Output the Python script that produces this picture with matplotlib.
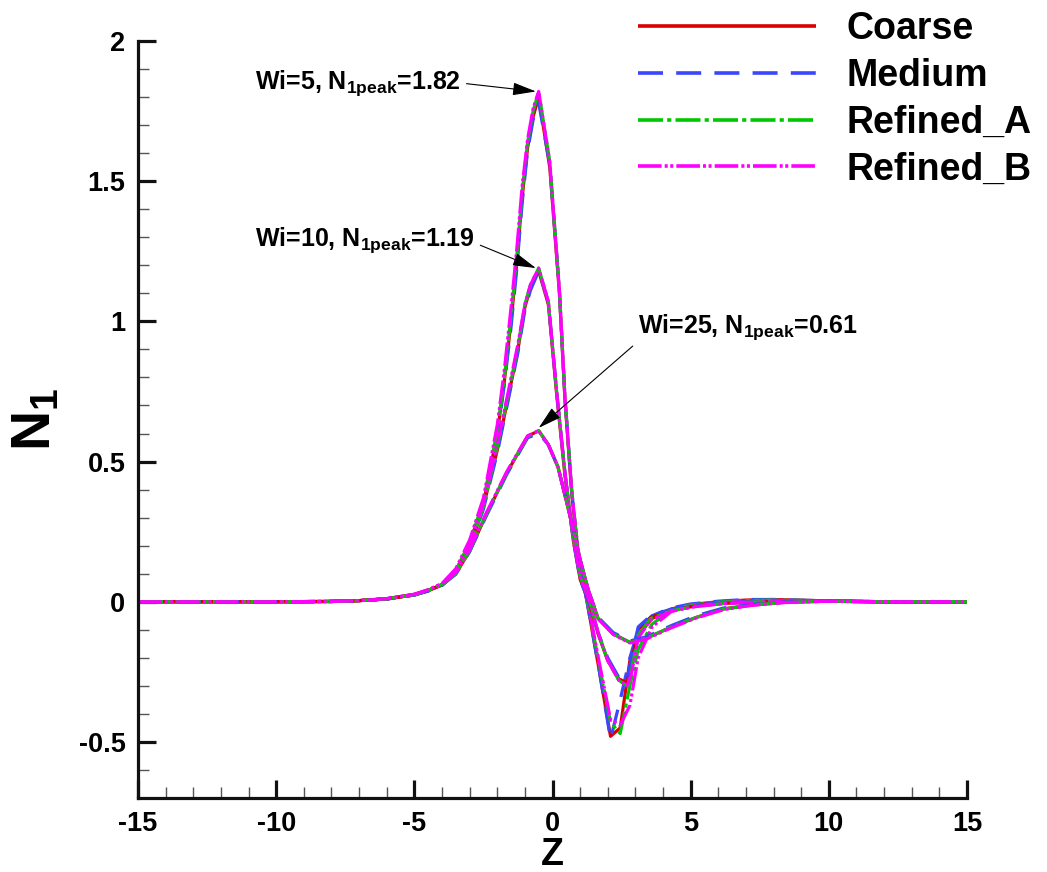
import matplotlib
matplotlib.use("Agg")
import matplotlib.pyplot as plt
from matplotlib.ticker import MultipleLocator, FixedLocator

plt.rcParams["font.family"] = ["Liberation Sans", "DejaVu Sans"]
plt.rcParams["font.weight"] = "bold"
plt.rcParams["mathtext.default"] = "regular"
plt.rcParams["lines.scale_dashes"] = False

# ---- data -------------------------------------------------------------
meshes = ["Coarse", "Medium", "Refined_A", "Refined_B"]

z_wi5 = [-15, -10, -8, -7, -6, -5, -4.5, -4, -3.5, -3, -2.5, -2, -1.75, -1.5,
         -1.3, -1.1, -0.9, -0.7, -0.5, -0.1, 0.25, 0.45, 0.7, 0.95, 1.25, 1.7,
         2.1, 2.45, 2.8, 3.1, 3.6, 4.3, 5, 6, 7, 8, 10, 12, 15]
n1_wi5 = {
    "Coarse":    [0, 0, 0.001, 0.004, 0.01, 0.025, 0.04, 0.06, 0.11, 0.21, 0.35, 0.60, 0.78, 1.00,
                  1.20, 1.44, 1.62, 1.73, 1.80, 1.55, 1.10, 0.72, 0.38, 0.15, 0.0, -0.25,
                  -0.48, -0.45, -0.21, -0.12, -0.06, -0.026, -0.01, 0.0, 0.006, 0.008, 0.003, 0, 0],
    "Medium":    [0, 0, 0.001, 0.004, 0.01, 0.024, 0.038, 0.058, 0.105, 0.20, 0.34, 0.59, 0.77, 0.98,
                  1.18, 1.42, 1.61, 1.72, 1.78, 1.56, 1.11, 0.73, 0.39, 0.15, 0.0, -0.25,
                  -0.49, -0.35, -0.20, -0.10, -0.05, -0.022, -0.008, 0.002, 0.008, 0.008, 0.003, 0, 0],
    "Refined_A": [0, 0, 0.001, 0.004, 0.01, 0.026, 0.041, 0.062, 0.112, 0.21, 0.36, 0.61, 0.79, 1.02,
                  1.22, 1.46, 1.64, 1.75, 1.82, 1.57, 1.11, 0.73, 0.39, 0.16, 0.01, -0.23,
                  -0.43, -0.47, -0.30, -0.17, -0.08, -0.03, -0.012, -0.002, 0.004, 0.006, 0.003, 0, 0],
    "Refined_B": [0, 0, 0.001, 0.004, 0.011, 0.027, 0.043, 0.065, 0.118, 0.22, 0.37, 0.63, 0.82, 1.05,
                  1.25, 1.48, 1.65, 1.76, 1.82, 1.57, 1.11, 0.73, 0.39, 0.16, 0.01, -0.22,
                  -0.42, -0.44, -0.37, -0.20, -0.09, -0.035, -0.014, -0.004, 0.002, 0.005, 0.003, 0, 0],
}

z_wi10 = [-15, -10, -8, -7, -6, -5, -4.5, -4, -3.5, -3, -2.5, -2, -1.6, -1.25,
          -1.0, -0.8, -0.5, -0.15, 0.15, 0.45, 0.75, 1.0, 1.35, 1.65, 2.0, 2.4,
          2.7, 2.85, 3.1, 3.55, 4.3, 5.2, 6.2, 7.5, 9, 12, 15]
n1_wi10 = {
    "Coarse":    [0, 0, 0.001, 0.004, 0.01, 0.025, 0.04, 0.06, 0.105, 0.19, 0.34, 0.54, 0.73, 0.90,
                  1.05, 1.12, 1.18, 1.06, 0.74, 0.45, 0.22, 0.08, -0.01, -0.115, -0.21, -0.275,
                  -0.29, -0.22, -0.10, -0.056, -0.03, -0.015, -0.006, 0.0, 0.002, 0, 0],
    "Medium":    [0, 0, 0.001, 0.004, 0.01, 0.024, 0.039, 0.059, 0.102, 0.19, 0.33, 0.53, 0.72, 0.89,
                  1.04, 1.11, 1.18, 1.07, 0.75, 0.46, 0.22, 0.08, -0.01, -0.11, -0.20, -0.27,
                  -0.28, -0.20, -0.09, -0.05, -0.026, -0.012, -0.004, 0.001, 0.002, 0, 0],
    "Refined_A": [0, 0, 0.001, 0.004, 0.01, 0.025, 0.04, 0.061, 0.107, 0.19, 0.34, 0.55, 0.74, 0.91,
                  1.06, 1.13, 1.19, 1.07, 0.75, 0.46, 0.23, 0.09, 0.0, -0.11, -0.21, -0.28,
                  -0.30, -0.25, -0.12, -0.06, -0.032, -0.016, -0.006, 0.0, 0.002, 0, 0],
    "Refined_B": [0, 0, 0.001, 0.004, 0.011, 0.026, 0.042, 0.063, 0.11, 0.20, 0.35, 0.56, 0.75, 0.92,
                  1.06, 1.13, 1.19, 1.07, 0.75, 0.46, 0.23, 0.09, 0.0, -0.11, -0.21, -0.28,
                  -0.30, -0.26, -0.13, -0.065, -0.034, -0.017, -0.007, -0.001, 0.002, 0, 0],
}

z_wi25 = [-15, -10, -8, -7, -6, -5, -4.5, -4, -3.5, -3, -2.4, -1.65, -0.9, -0.5,
          -0.15, 0.2, 0.65, 1.0, 1.3, 1.65, 2.2, 2.8, 3.4, 4.3, 5.2, 6.2, 7.2,
          8.4, 10, 12, 15]
n1_wi25 = {
    "Coarse":    [0, 0, 0.001, 0.004, 0.01, 0.025, 0.04, 0.06, 0.10, 0.18, 0.31, 0.46, 0.59, 0.61,
                  0.56, 0.48, 0.30, 0.15, 0.04, -0.06, -0.115, -0.145, -0.13, -0.09, -0.056,
                  -0.025, -0.012, -0.002, 0.002, 0, 0],
    "Medium":    [0, 0, 0.001, 0.004, 0.01, 0.024, 0.039, 0.059, 0.098, 0.178, 0.305, 0.455, 0.585, 0.60,
                  0.56, 0.48, 0.30, 0.15, 0.04, -0.055, -0.11, -0.14, -0.125, -0.085, -0.05,
                  -0.022, -0.01, -0.001, 0.002, 0, 0],
    "Refined_A": [0, 0, 0.001, 0.004, 0.01, 0.025, 0.04, 0.061, 0.101, 0.182, 0.312, 0.462, 0.59, 0.61,
                  0.56, 0.48, 0.30, 0.15, 0.04, -0.06, -0.115, -0.145, -0.13, -0.09, -0.056,
                  -0.026, -0.012, -0.002, 0.002, 0, 0],
    "Refined_B": [0, 0, 0.001, 0.004, 0.011, 0.026, 0.042, 0.063, 0.104, 0.186, 0.316, 0.465, 0.592, 0.61,
                  0.56, 0.48, 0.30, 0.15, 0.04, -0.06, -0.117, -0.147, -0.133, -0.093, -0.058,
                  -0.028, -0.013, -0.003, 0.002, 0, 0],
}

peak_labels = [
    ("Wi=5, N$_{1peak}$=1.82", (-0.6, 1.82), (-10.76, 1.85), (1.0, 0.5)),
    ("Wi=10, N$_{1peak}$=1.19", (-0.6, 1.19), (-10.76, 1.29), (1.0, 0.4)),
    ("Wi=25, N$_{1peak}$=0.61", (-0.5, 0.62), (3.08, 0.98), (0.0, 0.0)),
]

x_ticks = [-15, -10, -5, 0, 5, 10, 15]
x_tick_labels = ["-15", "-10", "-5", "0", "5", "10", "15"]
y_ticks = [-0.5, 0, 0.5, 1, 1.5, 2]
y_tick_labels = ["-0.5", "0", "0.5", "1", "1.5", "2"]

# ---- styles -----------------------------------------------------------
styles = {
    "Coarse":    dict(color="#d80000", linestyle="-"),
    "Medium":    dict(color="#3a46ff", linestyle=(0, (18, 9.5))),
    "Refined_A": dict(color="#00c800", linestyle=(0, (18, 3, 3, 3))),
    "Refined_B": dict(color="#ff00ff", linestyle=(0, (17, 2.2, 2.2, 1.8, 2.2, 2.2))),
}

fig = plt.figure(figsize=(10.47, 8.72), dpi=100)
ax = fig.add_axes([138 / 1047, 1 - 798 / 872, (967 - 138) / 1047, (798 - 41) / 872])

handles = {}
for data_z, data_n in ((z_wi5, n1_wi5), (z_wi10, n1_wi10), (z_wi25, n1_wi25)):
    for m in meshes:
        ln, = ax.plot(data_z, data_n[m], lw=2.3, solid_capstyle="butt",
                      dash_capstyle="butt", **styles[m])
        handles[m] = ln

ax.set_xlim(-15, 15)
ax.set_ylim(-0.7, 2.0)
ax.spines["top"].set_visible(False)
ax.spines["right"].set_visible(False)
for s in ("left", "bottom"):
    ax.spines[s].set_linewidth(2.3)
    ax.spines[s].set_color("#111111")

ax.xaxis.set_major_locator(FixedLocator(x_ticks))
ax.set_xticklabels(x_tick_labels)
ax.yaxis.set_major_locator(FixedLocator(y_ticks))
ax.set_yticklabels(y_tick_labels)
ax.xaxis.set_minor_locator(MultipleLocator(1))
ax.yaxis.set_minor_locator(MultipleLocator(0.1))
ax.tick_params(which="major", direction="in", length=13, width=2.3,
               labelsize=19.5, pad=9, color="#111111")
ax.tick_params(which="minor", direction="in", length=8, width=1.0, color="#555555")
for lab in ax.get_xticklabels() + ax.get_yticklabels():
    lab.set_fontweight("bold")

ax.set_xlabel("Z", fontsize=27, fontweight="bold", labelpad=0)
ax.set_ylabel("N$_1$", fontsize=40, fontweight="bold", labelpad=12)

for text, xy, xytext, rel in peak_labels:
    ax.annotate(text, xy=xy, xytext=xytext, textcoords="data",
                fontsize=18, fontweight="bold", ha="left", va="center",
                arrowprops=dict(arrowstyle="-|>,head_length=0.8,head_width=0.22",
                                color="black", lw=0.8, shrinkA=2, shrinkB=0,
                                relpos=rel))

leg = fig.legend([handles[m] for m in meshes], meshes,
                 loc="upper left", bbox_to_anchor=(638 / 1047, 1 - 11 / 872),
                 frameon=False, fontsize=27, handlelength=4.75,
                 handletextpad=0.8, labelspacing=0.29, borderpad=0,
                 borderaxespad=0)
for t in leg.get_texts():
    t.set_fontweight("bold")
for l in leg.get_lines():
    l.set_linewidth(2.6)

fig.savefig("out.png", dpi=100)
